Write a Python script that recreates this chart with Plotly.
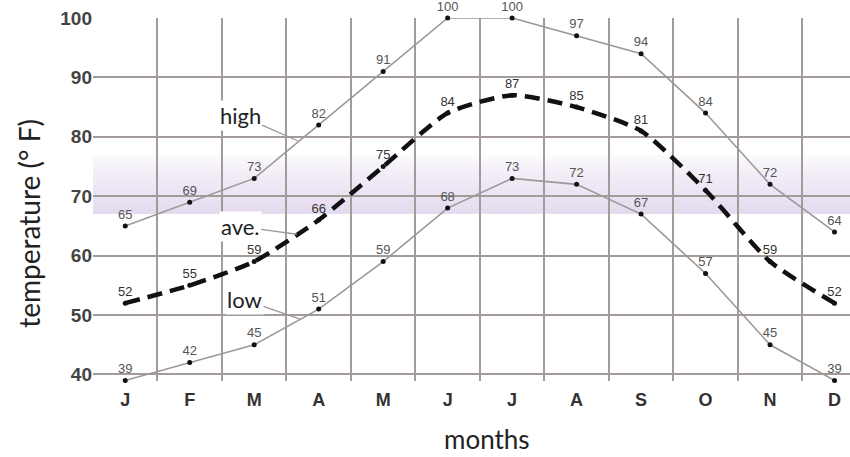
import plotly.graph_objects as go

months = ["J", "F", "M", "A", "M", "J", "J", "A", "S", "O", "N", "D"]
high = [65, 69, 73, 82, 91, 100, 100, 97, 94, 84, 72, 64]
ave = [52, 55, 59, 66, 75, 84, 87, 85, 81, 71, 59, 52]
low = [39, 42, 45, 51, 59, 68, 73, 72, 67, 57, 45, 39]

comfort_low, comfort_high = 67, 77
y_bottom, y_top = 40, 100

x = list(range(len(months)))
label_font = dict(family="Liberation Sans, Arial", size=13, color="#555555")
word_font = dict(family="Lato, Noto Sans", size=28, color="#222222")

fig = go.Figure()

# lavender comfort band, fading towards the top
steps = 12
for i in range(steps):
    y0 = comfort_low + (comfort_high - comfort_low) * i / steps
    y1 = comfort_low + (comfort_high - comfort_low) * (i + 1) / steps
    alpha = 0.6 * (1 - i / steps) ** 0.7
    fig.add_hrect(y0=y0, y1=y1, line_width=0,
                  fillcolor=f"rgba(212,195,228,{alpha:.3f})", layer="below")

# the axis range dips a little under 40 so the 39 points stay visible;
# hide the grid in that sliver
fig.add_hrect(y0=y_bottom - 2, y1=y_bottom - 0.15, line_width=0,
              fillcolor="white", layer="below")

fig.add_trace(go.Scatter(
    x=x, y=high, mode="lines+markers+text", text=high,
    textposition="top center", textfont=label_font,
    line=dict(color="#9c9898", width=1.6),
    marker=dict(color="#111111", size=5), cliponaxis=False,
))
fig.add_trace(go.Scatter(
    x=x, y=low, mode="lines+markers+text", text=low,
    textposition="top center", textfont=label_font,
    line=dict(color="#9c9898", width=1.6),
    marker=dict(color="#111111", size=5), cliponaxis=False,
))
fig.add_trace(go.Scatter(
    x=x, y=ave, mode="lines+markers+text", text=ave,
    textposition="top center", textfont=dict(label_font, color="#333333"),
    line=dict(color="#111111", width=4.5, dash="15px,8px", shape="spline", smoothing=0.6),
    marker=dict(color="#111111", size=5), cliponaxis=False,
))

# line names with leader lines
for name, tx, ty, px, py in [("high", 1.78, 83.6, 2.68, 79.3),
                             ("ave.", 1.78, 64.9, 2.66, 63.6),
                             ("low", 1.85, 52.6, 2.71, 49.3)]:
    fig.add_annotation(
        x=px, y=py, ax=tx, ay=ty, axref="x", ayref="y", text=name,
        showarrow=True, arrowhead=0, arrowwidth=1.3, arrowcolor="#9c9898",
        font=dict(word_font, size=22), bgcolor="white", borderpad=1,
    )

# axis titles placed like the original (slightly off-centre)
fig.add_annotation(
    text="temperature (° F)", textangle=-90, showarrow=False,
    xref="paper", x=-0.11, yref="y", y=65.5, font=word_font,
)
fig.add_annotation(
    text="months", showarrow=False,
    xref="paper", x=0.52, yref="paper", y=0, yanchor="middle", yshift=-58,
    font=dict(word_font, size=26),
)

fig.update_layout(
    width=850, height=457,
    margin=dict(l=93, r=0, t=18, b=76),
    paper_bgcolor="white", plot_bgcolor="white",
    showlegend=False,
)
fig.update_xaxes(
    range=[-0.5, 11.24], tickvals=x, ticktext=months,
    showgrid=False, zeroline=False,
    tickfont=dict(family="Liberation Sans, Arial", size=18, color="#333333", weight="bold"),
    ticks="outside", ticklen=2, tickcolor="rgba(0,0,0,0)",
    minor=dict(tick0=-0.5, dtick=1, showgrid=True, gridcolor="#a39a9a", gridwidth=2),
)
fig.update_yaxes(
    range=[y_bottom - 1.1, y_top], dtick=10, zeroline=False,
    showgrid=True, gridcolor="#a39a9a", gridwidth=2,
    tickfont=dict(family="Liberation Sans, Arial", size=19, color="#444444", weight="bold"),
)

fig.write_html("out.html", config={"displayModeBar": False},
               post_script="document.body.style.margin='0px';")
